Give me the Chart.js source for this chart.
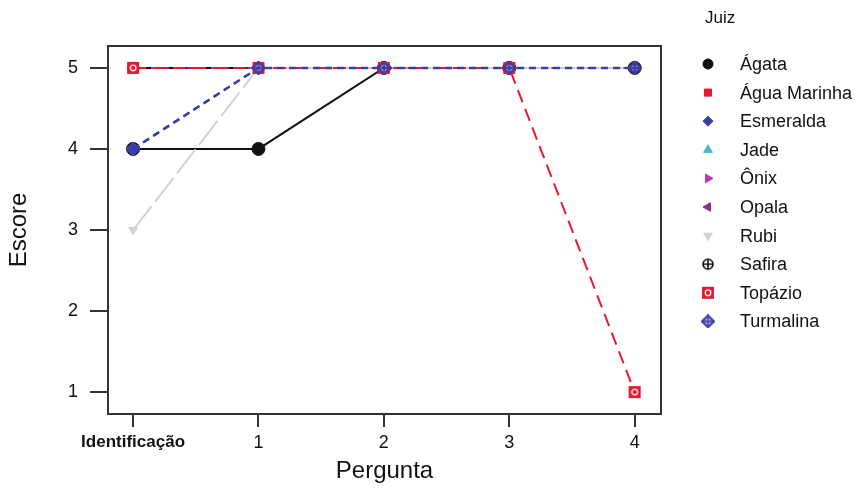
<!DOCTYPE html>
<html>
<head>
<meta charset="utf-8">
<script src="https://cdn.jsdelivr.net/npm/chart.js@4.4.0/dist/chart.umd.min.js"></script>
<style>
  html, body { margin: 0; padding: 0; background: #fff; }
</style>
</head>
<body>
<canvas id="escoreChart" width="858" height="490"></canvas>
<script>
// eixo x: perguntas, eixo y: escore
const perguntas = ['Identificação', '1', '2', '3', '4'];
const escoreTicks = [1, 2, 3, 4, 5];
const juizes = ['Ágata', 'Água Marinha', 'Esmeralda', 'Jade', 'Ônix', 'Opala', 'Rubi', 'Safira', 'Topázio', 'Turmalina'];

// escores
const agata       = [4, 4, 5, 5, 5];
const aguaMarinha = [5, 5, 5, 5, 5];
const esmeralda   = [4, 5, 5, 5, 5];
const jade        = [5, 5, 5, 5, 5];
const onix        = [5, 5, 5, 5, 5];
const opala       = [5, 5, 5, 5, 5];
const rubi        = [3, 5, 5, 5, 5];
const safira      = [5, 5, 5, 5, 5];
const topazio     = [5, 5, 5, 5, 1];
const turmalina   = [4, 5, 5, 5, 5];

const FONT = '"Liberation Sans", Arial, sans-serif';
const TXT = '#111';

// marcadores especiais (desenhados num canvas pequeno)
function marker(size, draw) {
    const c = document.createElement('canvas');
    c.width = size;
    c.height = size;
    draw(c.getContext('2d'), size / 2);
    return c;
}
const safiraMarker = marker(14, (g, m) => {
    g.strokeStyle = '#111';
    g.lineWidth = 1.6;
    g.beginPath(); g.arc(m, m, 5, 0, Math.PI * 2); g.stroke();
    g.beginPath(); g.moveTo(m - 5, m); g.lineTo(m + 5, m); g.moveTo(m, m - 5); g.lineTo(m, m + 5); g.stroke();
});
const topazioMarker = marker(14, (g, m) => {
    g.fillStyle = '#E8182F';
    g.fillRect(m - 6, m - 6, 12, 12);
    g.strokeStyle = '#fff';
    g.lineWidth = 1.3;
    g.beginPath(); g.arc(m, m, 2.8, 0, Math.PI * 2); g.stroke();
});
const turmalinaMarker = marker(14, (g, m) => {
    g.strokeStyle = '#3A3FA8';
    g.fillStyle = 'rgba(58,63,168,0.45)';
    g.lineWidth = 2;
    g.beginPath();
    g.moveTo(m, m - 6); g.lineTo(m + 6, m); g.lineTo(m, m + 6); g.lineTo(m - 6, m); g.closePath();
    g.fill(); g.stroke();
    g.lineWidth = 1.3;
    g.beginPath(); g.moveTo(m - 5, m); g.lineTo(m + 5, m); g.moveTo(m, m - 5); g.lineTo(m, m + 5); g.stroke();
});

function serie(label, values, color, dash, style, extra) {
    return Object.assign({
        label: label,
        data: values.map((v, i) => ({ x: i, y: v })),
        borderColor: color,
        backgroundColor: color,
        pointBackgroundColor: color,
        pointBorderColor: color,
        borderWidth: 2,
        borderDash: dash,
        pointStyle: style,
        pointRadius: 6,
        pointHoverRadius: 6,
        pointBorderWidth: 1,
        tension: 0
    }, extra || {});
}

const datasets = [
    serie(juizes[0], agata, '#111111', [], 'circle', { pointRadius: 6.5 }),
    serie(juizes[1], aguaMarinha, '#E8182F', [], 'rect'),
    serie(juizes[2], esmeralda, '#3A3FA8', [7, 5], 'rectRot', { borderWidth: 2.5, pointRadius: 7 }),
    serie(juizes[3], jade, '#3DBBC9', [2, 4, 8, 4], 'triangle'),
    serie(juizes[4], onix, '#B13BB4', [10, 5], 'triangle', { pointRotation: 90 }),
    serie(juizes[5], opala, '#8A2A8E', [4, 3, 10, 3], 'triangle', { pointRotation: -90 }),
    serie(juizes[6], rubi, '#D2D2D2', [30, 6], 'triangle', { pointRotation: 180, pointRadius: 5 }),
    serie(juizes[7], safira, '#111111', [6, 6], safiraMarker),
    serie(juizes[8], topazio, '#E8182F', [13, 7], topazioMarker),
    serie(juizes[9], turmalina, '#3A3FA8', [7, 5], turmalinaMarker)
];
// ordem de desenho como no R: o último juiz fica por cima
datasets.forEach((d, i) => { d.order = datasets.length - i; });

// legenda à direita, desenhada a partir dos próprios datasets
const juizLegend = {
    id: 'juizLegend',
    afterDraw(chart) {
        const ctx = chart.ctx;
        ctx.save();
        ctx.textBaseline = 'middle';
        ctx.textAlign = 'left';
        ctx.fillStyle = TXT;
        ctx.font = '17px ' + FONT;
        ctx.fillText('Juiz', 705, 18);
        chart.data.datasets.forEach((ds, i) => {
            const y = 64 + i * 28.6;
            ctx.fillStyle = ds.pointBackgroundColor;
            ctx.strokeStyle = ds.pointBorderColor;
            ctx.lineWidth = 1;
            ctx.setLineDash([]);
            Chart.helpers.drawPoint(ctx, {
                pointStyle: ds.pointStyle,
                rotation: ds.pointRotation || 0,
                radius: 5,
                borderWidth: 1
            }, 708, y);
            ctx.fillStyle = TXT;
            ctx.font = '18px ' + FONT;
            ctx.fillText(ds.label, 740, y + 1);
        });
        ctx.restore();
    }
};

const boxBorder = { display: true, color: '#333', width: 2 };

const config = {
    type: 'line',
    data: { datasets: datasets },
    options: {
        responsive: false,
        animation: false,
        layout: { padding: 0 },
        plugins: {
            legend: { display: false },
            tooltip: { enabled: false }
        },
        scales: {
            x: {
                type: 'linear',
                position: 'bottom',
                min: -0.2,
                max: 4.21,
                afterBuildTicks: s => { s.ticks = perguntas.map((p, i) => ({ value: i })); },
                afterFit: s => { s.height = 76; },
                grid: { drawOnChartArea: false, tickLength: 13, color: '#333', lineWidth: 2 },
                border: boxBorder,
                ticks: {
                    padding: 5,
                    maxRotation: 0,
                    color: TXT,
                    font: c => ({ family: FONT, size: c.index === 0 ? 17 : 18, weight: c.index === 0 ? 'bold' : 'normal' }),
                    callback: (v, i) => perguntas[i]
                },
                title: {
                    display: true,
                    text: 'Pergunta',
                    color: TXT,
                    font: { family: FONT, size: 24 },
                    padding: { top: 0, bottom: 4 }
                }
            },
            y: {
                type: 'linear',
                position: 'left',
                min: 0.73,
                max: 5.27,
                afterBuildTicks: s => { s.ticks = escoreTicks.map(v => ({ value: v })); },
                afterFit: s => { s.width = 108; },
                grid: { drawOnChartArea: false, tickLength: 18, color: '#333', lineWidth: 2 },
                border: boxBorder,
                ticks: {
                    padding: 12,
                    color: TXT,
                    font: { family: FONT, size: 18 },
                    callback: v => String(v)
                },
                title: {
                    display: true,
                    text: 'Escore',
                    color: TXT,
                    font: { family: FONT, size: 24 },
                    padding: { top: 5, bottom: 0 }
                }
            },
            // eixos só para fechar a caixa do gráfico (topo e direita)
            xTop: {
                type: 'linear',
                position: 'top',
                min: 0,
                max: 1,
                afterFit: s => { s.height = 46; },
                grid: { display: false },
                border: boxBorder,
                ticks: { display: false }
            },
            yRight: {
                type: 'linear',
                position: 'right',
                min: 0,
                max: 1,
                afterFit: s => { s.width = 197; },
                grid: { display: false },
                border: boxBorder,
                ticks: { display: false }
            }
        }
    },
    plugins: [juizLegend]
};

const canvas = document.querySelector('#escoreChart');
if (canvas) {
    new Chart(canvas, config);
} else {
    console.error('Canvas #escoreChart not found');
}
</script>
</body>
</html>
